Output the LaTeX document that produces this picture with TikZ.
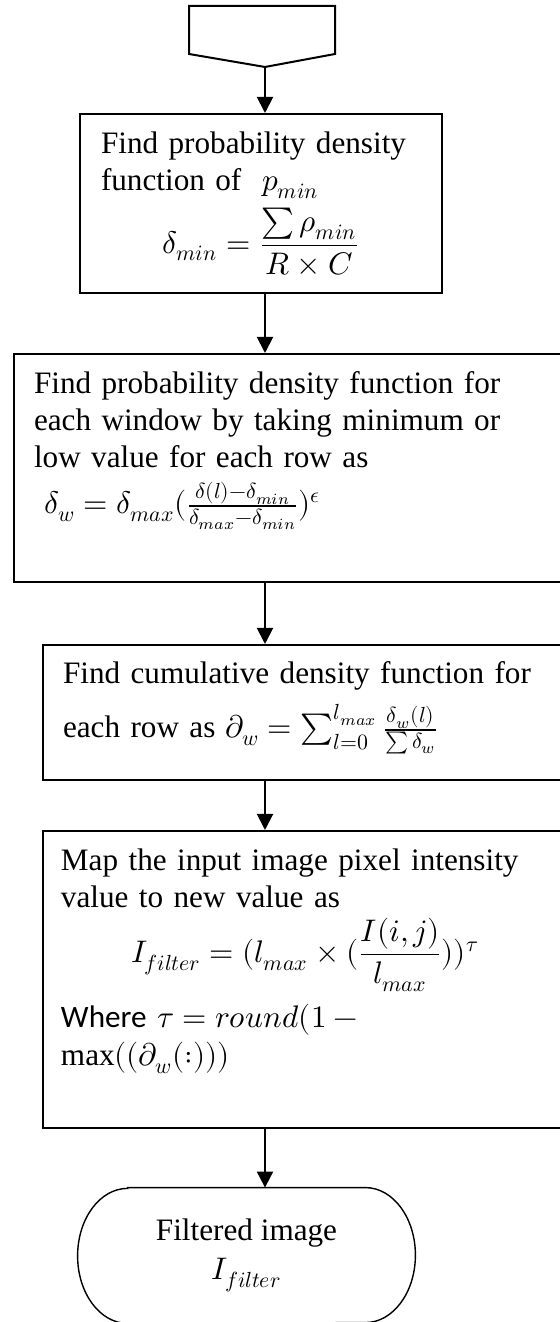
\documentclass[tikz,border=0pt]{standalone}
\usepackage{fontspec}
\usepackage{unicode-math}
\setmainfont{Liberation Serif}
\setmathfont{Latin Modern Math}
\newfontfamily\calibri{Carlito}
\usetikzlibrary{arrows.meta}

\tikzset{
  procbox/.style={draw, line width=1pt, rectangle, anchor=north west, align=left,
    inner ysep=0pt, inner xsep=10pt, font=\fontsize{15.6}{18.3}\selectfont},
  termtext/.style={align=center, font=\fontsize{15.6}{19.5}\selectfont},
  flow/.style={line width=1pt, -{Triangle[width=8pt,length=8pt]}}
}

\begin{document}
\begin{tikzpicture}[x=0.5pt,y=0.5pt]
\useasboundingbox (0,0) rectangle (560,1322);

% off-page connector at the top
\draw[line width=1pt] (189,1316) -- (335,1316) -- (335,1268) -- (265,1255) coordinate (start)
  -- (189,1268) -- cycle;

\node[procbox, text width=160pt, inner xsep=10.5pt, text height=20pt, text depth=69.5pt] (pdfmin) at (79,1209)
  {Find probability density\\ function of \ $p_{min}$\\[4pt]
   \makebox[\linewidth]{$\delta_{min} = \dfrac{\sum \rho_{min}}{R \times C}$}};

\node[procbox, text width=256.5pt, text height=20pt, text depth=94pt] (pdfwin) at (13,969)
  {Find probability density function for\\ each window by taking minimum or\\ low value for each row as\\[5pt]
   \ $\delta_w = \delta_{max}(\frac{\delta(l)-\delta_{min}}{\delta_{max}-\delta_{min}})^{\epsilon}$};

\node[procbox, text width=242pt, text height=19.5pt, text depth=48pt] (cdf) at (42,678)
  {Find cumulative density function for\\[6pt]
   each row as $\partial_w = \sum_{l=0}^{l_{max}} \frac{\delta_w(l)}{\sum \delta_w}$};

\node[procbox, text width=244pt, inner xsep=9pt, text height=20pt, text depth=128.5pt] (mapint) at (42,492)
  {Map the input image pixel intensity\\ value to new value as\\[4pt]
   \makebox[\linewidth]{$I_{filter} = (l_{max} \times (\dfrac{I(i,j)}{l_{max}}))^{\tau}$}\\[5pt]
   {\calibri Where} $\tau = round(1 -{}$\\[1pt] $\max((\partial_w(:)))$};

% terminator
\node[termtext, minimum width=168.5pt, minimum height=67.5pt] (outimg) at (246.5,66.5)
  {Filtered image\\ $I_{filter}$};
\draw[line width=0.7pt] ([xshift=25pt]outimg.north west) -- ([xshift=-25pt]outimg.north east)
  arc[start angle=90, end angle=-90, x radius=25pt, y radius=33.75pt]
  -- ([xshift=25pt]outimg.south west)
  arc[start angle=270, end angle=90, x radius=25pt, y radius=33.75pt] -- cycle;

\draw[flow] (start) -- (start |- pdfmin.north);
\draw[flow] (pdfmin.south -| start) -- (pdfwin.north -| start);
\draw[flow] (pdfwin.south -| start) -- (cdf.north -| start);
\draw[flow] (cdf.south -| start) -- (mapint.north -| start);
\draw[flow] (mapint.south -| start) -- (outimg.north -| start);
\end{tikzpicture}
\end{document}
